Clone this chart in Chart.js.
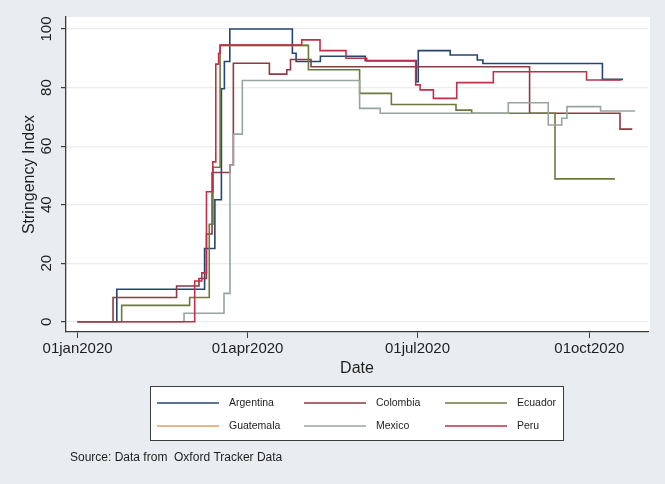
<!DOCTYPE html>
<html lang="en">
<head>
  <meta charset="UTF-8">
  <title>Stringency Index</title>
  <style>
    body { margin:0; background:#e9edf1; }
    .wrap { width:665px; height:484px; }
  </style>
</head>
<body>
<div class="wrap"><canvas id="c" width="665" height="484"></canvas></div>
<script src="https://cdn.jsdelivr.net/npm/chart.js"></script>
<script>
// days since 01jan2020, value of the index from that day on
const countries = ['Argentina', 'Colombia', 'Ecuador', 'Guatemala', 'Mexico', 'Peru'];
const colors = ['#24466f', '#8c3a43', '#6b7a3f', '#e2a15e', '#98a49f', '#c0304a'];

const argentinaDays = [0, 21, 68, 73.5, 77, 78.6, 81.5, 115, 117, 130, 154, 181.3, 182.4, 199.5, 214, 217, 281, 292];
const argentinaVals = [0, 11.1, 25, 41.7, 79.6, 88.9, 100, 91.7, 88.9, 90.7, 89.2, 82, 92.6, 91.1, 89.4, 88.2, 82.8, 82.8];

const colombiaDays = [0, 19, 53, 65, 69, 72, 81.6, 83.4, 102.7, 112, 114, 125, 242, 290.4, 297];
const colombiaVals = [0, 8.3, 12.2, 14.8, 30, 51, 53.5, 88.3, 84.6, 86.1, 89.6, 87.1, 71.2, 65.8, 65.8];

const ecuadorDays = [0, 23.6, 60, 70.5, 72.5, 76.3, 123.6, 151, 168, 202.6, 211, 255.6, 287.7];
const ecuadorVals = [0, 5.6, 8.3, 33.3, 52.8, 94.4, 86.1, 78, 74.2, 72.3, 71.2, 48.8, 48.8];

const guatemalaDays = [76.3, 123.6];
const guatemalaVals = [94.4, 94.4];

const mexicoDays = [0, 57, 78.4, 81.6, 83.4, 88.2, 151, 162, 230.6, 252, 259.2, 262, 280, 298.5];
const mexicoVals = [0, 2.9, 9.7, 53.5, 64.1, 82.4, 72.9, 71.2, 74.8, 67.2, 69.5, 73.5, 72, 72];

const peruDays = [0, 62.7, 66.5, 69, 72.4, 74, 75.5, 76.3, 120, 129.8, 143.7, 154.8, 181, 183.4, 190.5, 203, 222.6, 272.5, 291];
const peruVals = [0, 13.9, 16.7, 44.4, 54.6, 88, 91.7, 94.5, 96.3, 92.6, 90, 89.1, 80.9, 79.2, 76.3, 81.7, 85.4, 82.6, 82.6];

const xTicks = [0, 91, 182, 274];
const xTickLabels = ['01jan2020', '01apr2020', '01jul2020', '01oct2020'];
const yTicks = [0, 20, 40, 60, 80, 100];

const series = [
  [argentinaDays, argentinaVals],
  [colombiaDays, colombiaVals],
  [ecuadorDays, ecuadorVals],
  [guatemalaDays, guatemalaVals],
  [mexicoDays, mexicoVals],
  [peruDays, peruVals]
];
// Stata draws in listed order, Peru ends on top; Guatemala sits under Ecuador
const drawOrder = [5, 4, 2, 3, 1, 0];

const FONT = '"Liberation Sans", Arial, Helvetica, sans-serif';

const datasets = series.map((s, i) => ({
  label: countries[i],
  data: s[0].map((d, j) => ({ x: d, y: s[1][j] })),
  borderColor: colors[i],
  backgroundColor: colors[i],
  borderWidth: 1.6,
  pointRadius: 0,
  stepped: true,
  fill: false,
  order: drawOrder[i]
}));

const decor = {
  id: 'decor',
  beforeDraw(chart) {
    const { ctx, chartArea: a } = chart;
    ctx.save();
    ctx.fillStyle = '#e9edf1';
    ctx.fillRect(0, 0, chart.width, chart.height);
    ctx.fillStyle = '#ffffff';
    ctx.fillRect(a.left, a.top, a.right - a.left + 2, a.bottom - a.top);
    ctx.restore();
  },
  afterDraw(chart) {
    const { ctx, chartArea: a } = chart;
    const y = chart.scales.y;
    ctx.save();
    ctx.fillStyle = '#1e1e1e';
    // y tick labels, vertical like Stata
    ctx.font = '15px ' + FONT;
    ctx.textAlign = 'center';
    ctx.textBaseline = 'middle';
    yTicks.forEach(v => {
      ctx.save();
      ctx.translate(47, y.getPixelForValue(v));
      ctx.rotate(-Math.PI / 2);
      ctx.fillText(String(v), 0, 0);
      ctx.restore();
    });
    // axis titles
    ctx.font = '16px ' + FONT;
    ctx.save();
    ctx.translate(30, (a.top + a.bottom) / 2);
    ctx.rotate(-Math.PI / 2);
    ctx.fillText('Stringency Index', 0, 0);
    ctx.restore();
    ctx.fillText('Date', (a.left + a.right) / 2, 369);

    // legend box
    const bx = 150.5, by = 386.5, bw = 413, bh = 54;
    ctx.fillStyle = '#ffffff';
    ctx.fillRect(bx, by, bw, bh);
    ctx.strokeStyle = '#3c3c3c';
    ctx.lineWidth = 1;
    ctx.strokeRect(bx, by, bw, bh);
    const colX = [157, 304, 445];
    const rowY = [403, 426];
    ctx.font = '10.5px ' + FONT;
    ctx.textAlign = 'left';
    chart.data.datasets.forEach((ds, i) => {
      const cx = colX[i % 3], cy = rowY[Math.floor(i / 3)];
      ctx.strokeStyle = ds.borderColor;
      ctx.lineWidth = 1.6;
      ctx.beginPath();
      ctx.moveTo(cx, cy);
      ctx.lineTo(cx + 62, cy);
      ctx.stroke();
      ctx.fillStyle = '#1e1e1e';
      ctx.fillText(ds.label, cx + 72, cy);
    });

    // source note
    ctx.font = '12px ' + FONT;
    ctx.fillText('Source: Data from  Oxford Tracker Data', 70, 458);
    ctx.restore();
  }
};

new Chart(document.getElementById('c'), {
  type: 'line',
  data: { datasets },
  plugins: [decor],
  options: {
    responsive: false,
    animation: false,
    devicePixelRatio: 1,
    layout: { padding: { left: 0, top: 17, right: 17, bottom: 104 } },
    plugins: { legend: { display: false }, tooltip: { enabled: false } },
    scales: {
      x: {
        type: 'linear',
        min: -6.2,
        max: 305.4,
        afterBuildTicks: s => { s.ticks = xTicks.map(v => ({ value: v })); },
        afterFit: s => { s.height = 48; },
        ticks: {
          autoSkip: false,
          maxRotation: 0,
          padding: 2,
          color: '#1e1e1e',
          font: { family: FONT, size: 15 },
          callback: v => xTickLabels[xTicks.indexOf(v)]
        },
        grid: { drawOnChartArea: false, tickLength: 6, tickColor: '#3c3c3c' },
        border: { color: '#3c3c3c', width: 1.3 }
      },
      y: {
        min: -3.5,
        max: 104.1,
        afterBuildTicks: s => { s.ticks = yTicks.map(v => ({ value: v })); },
        afterFit: s => { s.width = 66; },
        ticks: { display: false },
        grid: { color: '#ececec', lineWidth: 1.2, tickLength: 5, tickColor: '#3c3c3c' },
        border: { color: '#3c3c3c', width: 1.3 }
      }
    }
  }
});
</script>
</body>
</html>
